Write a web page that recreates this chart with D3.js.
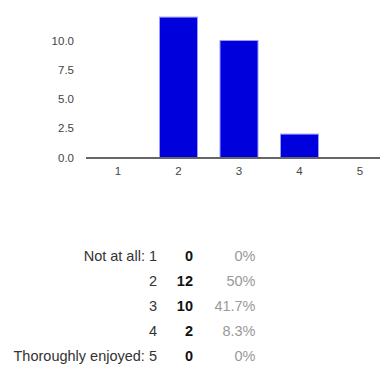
<!DOCTYPE html>
<html>
<head>
<meta charset="utf-8">
<script src="https://cdn.jsdelivr.net/npm/d3@7/dist/d3.min.js"></script>
<style>
  html, body { margin: 0; padding: 0; background: #fff; }
  svg { display: block; font-family: Arial, "Liberation Sans", sans-serif; }
</style>
</head>
<body>
<svg id="chart" width="380" height="365"></svg>
<script>
// Survey responses: how much the event was enjoyed (1–5)
const categories = ["1", "2", "3", "4", "5"];
const counts = [0, 12, 10, 2, 0];
const rowLabels = ["Not at all: 1", "2", "3", "4", "Thoroughly enjoyed: 5"];
const percents = ["0%", "50%", "41.7%", "8.3%", "0%"];
const yTicks = [0, 2.5, 5, 7.5, 10];

const svg = d3.select("#chart");

const x = d3.scaleBand()
  .domain(categories)
  .range([87.75, 390.25])
  .paddingInner(0.372)
  .paddingOuter(0.186);

const y = d3.scaleLinear()
  .domain([0, 10])
  .range([157.5, 40.5]);

// Bars
svg.append("g")
  .selectAll("rect")
  .data(categories)
  .join("rect")
  .attr("x", d => x(d))
  .attr("width", x.bandwidth())
  .attr("y", (d, i) => y(counts[i]))
  .attr("height", (d, i) => y(0) - y(counts[i]))
  .attr("fill", "#0000dd")
  .attr("stroke", "#9a9aff")
  .attr("stroke-width", 1)
  .attr("display", (d, i) => counts[i] > 0 ? null : "none");

// Y axis labels (no line)
const yAxis = d3.axisLeft(y)
  .tickValues(yTicks)
  .tickFormat(d3.format(".1f"))
  .tickSize(0)
  .tickPadding(0);
const gy = svg.append("g")
  .attr("transform", "translate(74,0)")
  .call(yAxis);
gy.select(".domain").remove();
gy.selectAll("text")
  .attr("font-size", "11.5px")
  .attr("font-family", "Arial, 'Liberation Sans', sans-serif")
  .attr("fill", "#444");

// Baseline
svg.append("line")
  .attr("x1", 86).attr("x2", 380)
  .attr("y1", y(0) + 0.5).attr("y2", y(0) + 0.5)
  .attr("stroke", "#666")
  .attr("stroke-width", 2);

// X axis labels
const xAxis = d3.axisBottom(x).tickSize(0).tickPadding(0);
const gx = svg.append("g")
  .attr("transform", `translate(0,${y(0) + 9})`)
  .call(xAxis);
gx.select(".domain").remove();
gx.selectAll("text")
  .attr("font-size", "11.5px")
  .attr("font-family", "Arial, 'Liberation Sans', sans-serif")
  .attr("fill", "#444")
  .attr("dy", "0.71em");

// Summary table
const rowY = d3.scalePoint()
  .domain(d3.range(rowLabels.length))
  .range([256, 356]);

const table = svg.append("g")
  .attr("font-size", "14.5px");

table.selectAll("text.label")
  .data(rowLabels)
  .join("text")
  .attr("class", "label")
  .attr("x", 157)
  .attr("y", (d, i) => rowY(i))
  .attr("dy", "0.35em")
  .attr("text-anchor", "end")
  .attr("fill", "#333")
  .text(d => d);

table.selectAll("text.count")
  .data(counts)
  .join("text")
  .attr("class", "count")
  .attr("x", 193)
  .attr("y", (d, i) => rowY(i))
  .attr("dy", "0.35em")
  .attr("text-anchor", "end")
  .attr("font-weight", "bold")
  .attr("fill", "#111")
  .text(d => d);

table.selectAll("text.pct")
  .data(percents)
  .join("text")
  .attr("class", "pct")
  .attr("x", 255.5)
  .attr("y", (d, i) => rowY(i))
  .attr("dy", "0.35em")
  .attr("text-anchor", "end")
  .attr("fill", "#999")
  .text(d => d);
</script>
</body>
</html>
